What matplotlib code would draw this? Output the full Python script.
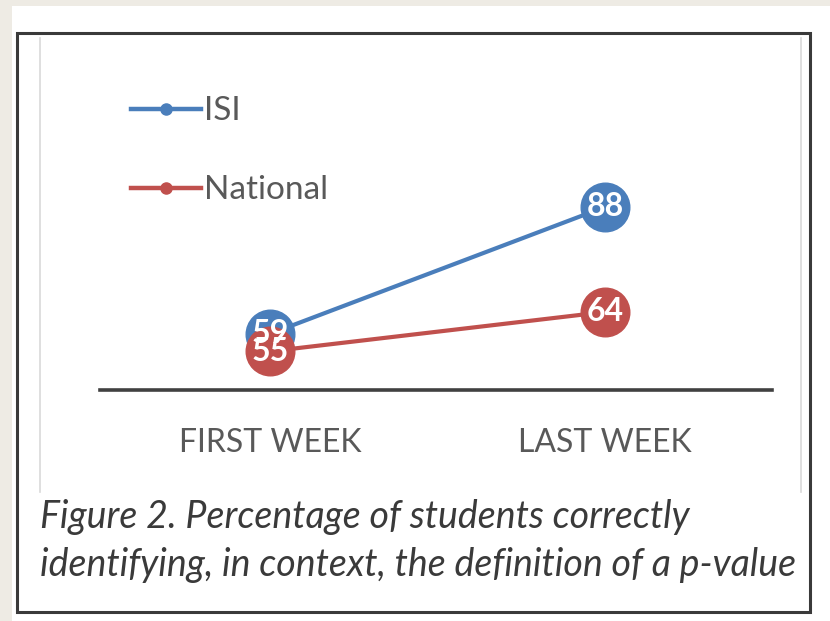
import matplotlib
matplotlib.use("Agg")
import matplotlib.pyplot as plt
from matplotlib.patches import Rectangle
from matplotlib.lines import Line2D

categories = ["FIRST WEEK", "LAST WEEK"]
series_names = ["ISI", "National"]
isi_values = [59, 88]
national_values = [55, 64]
colors = ["#4A7EBB", "#C0504D"]
caption = ("Figure 2. Percentage of students correctly\n"
           "identifying, in context, the definition of a p-value")

FONT = ["Lato", "DejaVu Sans"]
plt.rcParams["font.family"] = FONT

W, H = 830, 621
fig = plt.figure(figsize=(W / 100, H / 100), dpi=100, facecolor="#EEEBE4")

def px_rect(x0, y0, x1, y1, **kw):
    r = Rectangle((x0 / W, 1 - y1 / H), (x1 - x0) / W, (y1 - y0) / H,
                  transform=fig.transFigure, zorder=-5, **kw)
    fig.patches.append(r)

# white page and frames
px_rect(12, 6, 832, 625, facecolor="white", edgecolor="none")
px_rect(17, 33, 810, 612, facecolor="white", edgecolor="#3A3A3A", linewidth=2.2)
# light inner chart-area border (left/right lines)
fig.add_artist(Line2D([40 / W, 40 / W], [1 - 38 / H, 1 - 492 / H], transform=fig.transFigure,
                      color="#D9D9D9", linewidth=1.2, zorder=-4))
fig.add_artist(Line2D([801 / W, 801 / W], [1 - 38 / H, 1 - 492 / H], transform=fig.transFigure,
                      color="#D9D9D9", linewidth=1.2, zorder=-4))

# axes placement in pixels
ax_l, ax_r, ax_t, ax_b = 100, 772, 60, 390
ax = fig.add_axes([ax_l / W, 1 - ax_b / H, (ax_r - ax_l) / W, (ax_b - ax_t) / H])
ax.set_facecolor("none")
ax.set_xlim(-0.507, 1.4985)
ax.set_ylim(46.17, 121.6)

x = list(range(len(categories)))
for vals, c, name in zip([isi_values, national_values], colors, series_names):
    ax.plot(x, vals, color=c, linewidth=3.0, marker="o", markersize=35,
            markeredgecolor=c, markerfacecolor=c, label=name, zorder=3)
for vals, c in zip([isi_values, national_values], colors):
    for xi, v in zip(x, vals):
        ax.text(xi, v, str(v), ha="center", va="center", color="white",
                fontsize=23, fontweight="bold", zorder=5)

for s in ["top", "right", "left"]:
    ax.spines[s].set_visible(False)
ax.spines["bottom"].set_color("#404040")
ax.spines["bottom"].set_linewidth(2.6)
ax.set_yticks([])
ax.set_xticks(x)
ax.set_xticklabels(categories, fontsize=23, color="#595959")
ax.tick_params(axis="x", length=0, pad=27)

handles = [Line2D([0], [0], color=c, linewidth=3.2, marker="o", markersize=8,
                  markerfacecolor=c, markeredgecolor=c) for c in colors]
leg = ax.legend(handles, series_names, loc="upper left", bbox_to_anchor=(0.026, 0.93),
                frameon=False, fontsize=24, handlelength=2.1, handletextpad=0.1,
                labelspacing=1.47, borderaxespad=0)
for t in leg.get_texts():
    t.set_color("#595959")

fig.text(40 / W, 1 - 541 / H, caption, ha="left", va="center", fontsize=27,
         style="italic", color="#3A3A3A", linespacing=1.42)

fig.savefig("out.png", dpi=100, facecolor=fig.get_facecolor())
